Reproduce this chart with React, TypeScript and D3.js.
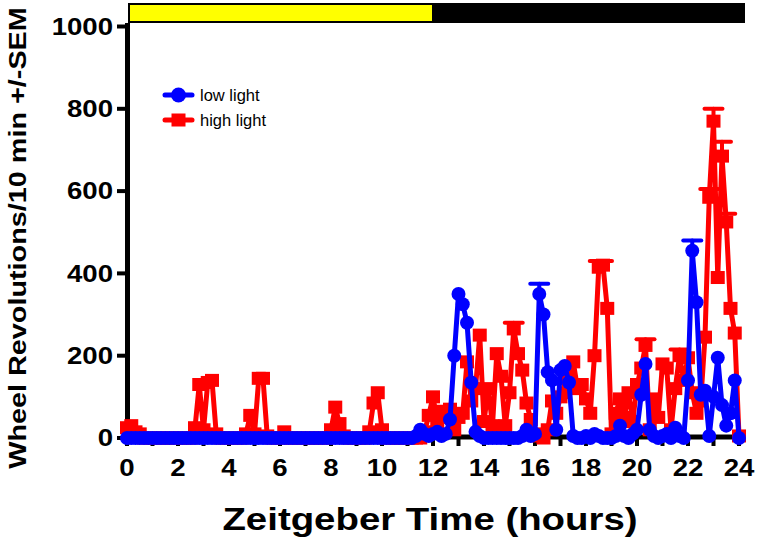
import React from 'react';
import * as d3 from 'd3';

// Zeitgeber time tick labels (hours)
const xTickHours = [0, 2, 4, 6, 8, 10, 12, 14, 16, 18, 20, 22, 24];
const xMinorHours = d3.range(0, 25, 1);
const yTicks = [0, 200, 400, 600, 800, 1000];

// wheel revolutions per 10-min bin, ZT 0 .. 24 (145 bins)
const lowLight = [
  0, 0, 0, 0, 0, 0,
  0, 0, 0, 0, 0, 0,
  0, 0, 0, 0, 0, 0,
  0, 0, 0, 0, 0, 0,
  0, 0, 0, 0, 0, 0,
  0, 0, 0, 0, 0, 0,
  0, 0, 0, 0, 0, 0,
  0, 0, 0, 0, 0, 0,
  0, 0, 0, 0, 0, 0,
  0, 0, 0, 0, 0, 0,
  0, 0, 0, 0, 0, 0,
  0, 0, 5, 20, 10, 5,
  10, 15, 5, 10, 45, 200,
  350, 325, 280, 135, 15, 5,
  0, 0, 0, 0, 0, 0,
  0, 0, 0, 5, 20, 5,
  10, 350, 300, 160, 140, 20,
  165, 175, 135, 5, 0, 0,
  5, 0, 10, 5, 0, 0,
  0, 5, 30, 5, 0, 10,
  20, 105, 180, 20, 5, 0,
  5, 10, 0, 25, 5, 0,
  140, 455, 330, 105, 115, 5,
  100, 195, 80, 30, 60, 140,
  0,
];

const highLight = [
  25, 30, 15, 10, 0, 0,
  0, 0, 0, 0, 0, 0,
  0, 0, 0, 0, 25, 130,
  20, 135, 140, 10, 0, 0,
  0, 0, 0, 0, 10, 55,
  10, 145, 145, 5, 0, 0,
  0, 15, 0, 0, 0, 0,
  0, 0, 0, 0, 0, 0,
  20, 75, 35, 5, 0, 0,
  0, 0, 0, 15, 85, 110,
  20, 0, 0, 0, 0, 0,
  0, 0, 0, 0, 15, 55,
  100, 40, 65, 50, 70, 20,
  50, 60, 185, 90, 120, 250,
  40, 120, 30, 205, 150, 30,
  110, 265, 205, 165, 85, 45,
  10, 5, 0, 20, 90, 60,
  100, 110, 140, 185, 120, 130,
  95, 60, 200, 415, 420, 315,
  10, 60, 95, 50, 110, 40,
  130, 170, 225, 20, 95, 50,
  180, 170, 20, 120, 200, 140,
  195, 110, 60, 90, 245, 585,
  770, 390, 685, 525, 315, 255,
  5,
];

// visible +SEM bars: [bin index, sem]
const lowLightSem = [[97, 25], [133, 25]];
const highLightSem = [
  [91, 15], [111, 15], [112, 10], [122, 15], [130, 15],
  [137, 20], [138, 30], [140, 35], [141, 20],
];

const seriesNames = ['low light', 'high light'];
const xTitle = 'Zeitgeber Time (hours)';
const yTitle = 'Wheel Revolutions/10 min +/-SEM';

const BLUE = '#0000ff';
const RED = '#ff0000';
const BOLD = "'Liberation Sans', Arial, Helvetica, sans-serif";

const binHours = lowLight.map((_, i) => (i * 10) / 60);

export default function App() {
  const W = 760;
  const H = 538;
  const x = d3.scaleLinear().domain([0, 24]).range([127, 739]);
  const y = d3.scaleLinear().domain([0, 1000]).range([438, 26.5]);
  const line = d3
    .line<number>()
    .x((_, i) => x(binHours[i]))
    .y((d) => y(d));

  const stretch = 1.2;
  const axisY = y(0) - 1;

  const errBars = (vals: number[], sems: number[][], color: string) =>
    sems.map(([i, s]) => (
      <g key={`e${i}`} stroke={color} strokeWidth={4} strokeLinecap="round">
        <line x1={x(binHours[i])} x2={x(binHours[i])} y1={y(vals[i])} y2={y(vals[i] + s)} />
        <line x1={x(binHours[i]) - 9} x2={x(binHours[i]) + 9} y1={y(vals[i] + s)} y2={y(vals[i] + s)} />
      </g>
    ));

  return (
    <svg
      width={W}
      height={H}
      style={{ position: 'absolute', left: 0, top: 0, background: '#fff' }}
    >
      {/* light/dark bar */}
      <rect x={x(0) + 2} y={4} width={x(12) - x(0) - 2} height={18} fill="#ffff00" stroke="#000" strokeWidth={2} />
      <rect x={x(12)} y={3} width={x(24) + 6 - x(12)} height={20} fill="#000" />

      {/* y axis */}
      <line x1={127.5} x2={127.5} y1={23} y2={axisY + 3} stroke="#000" strokeWidth={5} />
      {yTicks.map((t) => (
        <g key={t}>
          <line x1={117} x2={127} y1={y(t)} y2={y(t)} stroke="#000" strokeWidth={4} />
          <text
            transform={`translate(113,${y(t) + 8.3}) scale(${stretch},1)`}
            textAnchor="end"
            fontFamily={BOLD}
            fontWeight="bold"
            fontSize={23}
          >
            {t}
          </text>
        </g>
      ))}

      {/* x axis */}
      <line x1={x(0)} x2={x(24) + 2} y1={axisY} y2={axisY} stroke="#000" strokeWidth={5} />
      {xMinorHours.map((h) => (
        <line key={h} x1={x(h)} x2={x(h)} y1={axisY} y2={axisY + 9} stroke="#000" strokeWidth={4} />
      ))}
      {xTickHours.map((h) => (
        <text
          key={h}
          transform={`translate(${x(h)},${476}) scale(${stretch},1)`}
          textAnchor="middle"
          fontFamily={BOLD}
          fontWeight="bold"
          fontSize={23}
        >
          {h}
        </text>
      ))}

      {/* high light series */}
      <path d={line(highLight) || ''} fill="none" stroke={RED} strokeWidth={5} strokeLinejoin="round" />
      {errBars(highLight, highLightSem, RED)}
      {highLight.map((v, i) => (
        <rect key={i} x={x(binHours[i]) - 7} y={y(v) - 6.5} width={14} height={13} fill={RED} />
      ))}

      {/* low light series */}
      <path d={line(lowLight) || ''} fill="none" stroke={BLUE} strokeWidth={5} strokeLinejoin="round" />
      {errBars(lowLight, lowLightSem, BLUE)}
      {lowLight.map((v, i) => (
        <circle key={i} cx={x(binHours[i])} cy={y(v)} r={7} fill={BLUE} />
      ))}

      {/* legend */}
      <g>
        <line x1={165} x2={192} y1={95} y2={95} stroke={BLUE} strokeWidth={5} strokeLinecap="round" />
        <circle cx={178.5} cy={95} r={7.5} fill={BLUE} />
        <text x={200} y={101} fontFamily="'Liberation Sans', Arial, sans-serif" fontSize={16.5} fill="#000">
          {seriesNames[0]}
        </text>
        <line x1={165} x2={192} y1={120} y2={120} stroke={RED} strokeWidth={5} strokeLinecap="round" />
        <rect x={171.5} y={113.5} width={14} height={13} fill={RED} />
        <text x={200} y={126} fontFamily="'Liberation Sans', Arial, sans-serif" fontSize={16.5} fill="#000">
          {seriesNames[1]}
        </text>
      </g>

      {/* axis titles */}
      <text
        transform={`translate(430,530) scale(${stretch},1)`}
        textAnchor="middle"
        fontFamily={BOLD}
        fontWeight="bold"
        fontSize={32}
      >
        {xTitle}
      </text>
      <text
        transform={`translate(26,238) rotate(-90) scale(${stretch},1)`}
        textAnchor="middle"
        fontFamily={BOLD}
        fontWeight="bold"
        fontSize={24}
      >
        {yTitle}
      </text>
    </svg>
  );
}
